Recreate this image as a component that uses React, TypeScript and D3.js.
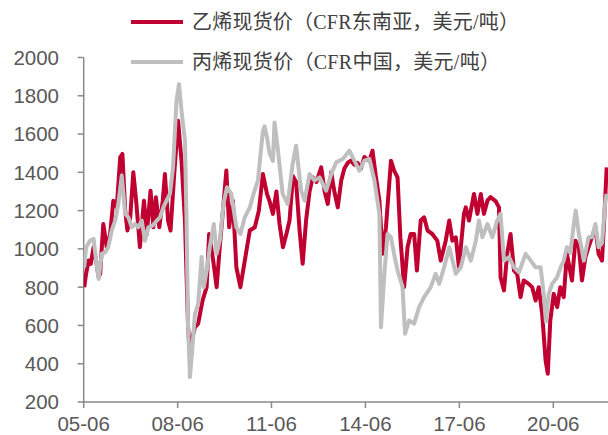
import React from "react";
import * as d3 from "d3";

// 乙烯现货价（CFR东南亚，美元/吨）: [decimal year, value]
const ethylene: [number, number][] = [
  [2005.43, 800], [2005.49, 870], [2005.57, 939], [2005.64, 922], [2005.73, 1009], [2005.81, 939],
  [2005.89, 852], [2005.94, 870], [2006.04, 1130], [2006.15, 1009], [2006.26, 1078], [2006.36, 1252],
  [2006.47, 1217], [2006.58, 1478], [2006.65, 1496], [2006.74, 1200], [2006.81, 1096], [2006.90, 1165],
  [2007.00, 1400], [2007.09, 1252], [2007.21, 1009], [2007.34, 1252], [2007.43, 1078], [2007.55, 1304],
  [2007.64, 1113], [2007.72, 1270], [2007.83, 1113], [2007.94, 1252], [2008.01, 1391], [2008.11, 1148],
  [2008.19, 1096], [2008.30, 1374], [2008.43, 1670], [2008.54, 1461], [2008.65, 1148], [2008.75, 591],
  [2008.83, 400], [2008.89, 539], [2008.97, 591], [2009.07, 609], [2009.21, 730], [2009.34, 800],
  [2009.42, 1078], [2009.55, 939], [2009.66, 800], [2009.76, 1009], [2009.87, 1217], [2009.97, 1409],
  [2010.06, 1113], [2010.18, 1252], [2010.29, 904], [2010.42, 800], [2010.56, 939], [2010.72, 1096],
  [2010.88, 1113], [2011.01, 1200], [2011.14, 1391], [2011.27, 1287], [2011.35, 1250], [2011.46, 1183],
  [2011.57, 1300], [2011.67, 1130], [2011.78, 1009], [2011.89, 1078], [2011.99, 1148], [2012.10, 1380],
  [2012.20, 1350], [2012.31, 1100], [2012.41, 922], [2012.52, 1150], [2012.63, 1300], [2012.73, 1374],
  [2012.85, 1350], [2013.00, 1426], [2013.11, 1300], [2013.21, 1235], [2013.32, 1400], [2013.42, 1300],
  [2013.53, 1217], [2013.64, 1357], [2013.74, 1420], [2013.85, 1450], [2013.95, 1461], [2014.06, 1440],
  [2014.16, 1450], [2014.27, 1420], [2014.38, 1480], [2014.54, 1460], [2014.64, 1513], [2014.75, 1374],
  [2014.86, 1252], [2014.96, 974], [2015.07, 1113], [2015.23, 1461], [2015.33, 1409], [2015.44, 1374],
  [2015.53, 1061], [2015.65, 800], [2015.76, 1009], [2015.86, 1078], [2015.97, 1078], [2016.06, 887],
  [2016.18, 1148], [2016.29, 1165], [2016.40, 1096], [2016.55, 1078], [2016.71, 1043], [2016.82, 939],
  [2016.98, 1043], [2017.09, 1148], [2017.19, 1043], [2017.30, 1060], [2017.40, 904], [2017.56, 1183],
  [2017.62, 1217], [2017.72, 1148], [2017.88, 1287], [2017.99, 1183], [2018.10, 1287], [2018.20, 1183],
  [2018.31, 1252], [2018.41, 1270], [2018.57, 1250], [2018.68, 1217], [2018.73, 852], [2018.84, 783],
  [2018.94, 974], [2019.05, 1078], [2019.16, 887], [2019.26, 870], [2019.37, 748], [2019.47, 835],
  [2019.63, 817], [2019.74, 800], [2019.85, 730], [2019.95, 800], [2020.06, 661], [2020.17, 417],
  [2020.24, 348], [2020.32, 626], [2020.43, 765], [2020.54, 696], [2020.64, 800], [2020.75, 748],
  [2020.85, 974], [2021.01, 835], [2021.12, 1043], [2021.23, 1009], [2021.33, 835], [2021.44, 957],
  [2021.54, 1009], [2021.65, 1061], [2021.76, 1113], [2021.86, 974], [2021.97, 939], [2022.05, 1183],
  [2022.12, 1426],
];

// 丙烯现货价（CFR中国，美元/吨）: [decimal year, value]
const propylene: [number, number][] = [
  [2005.43, 904], [2005.49, 1009], [2005.62, 1043], [2005.73, 1052], [2005.81, 939], [2005.89, 843],
  [2005.99, 974], [2006.10, 983], [2006.20, 1009], [2006.31, 1096], [2006.42, 1148], [2006.52, 1235],
  [2006.63, 1383], [2006.74, 1183], [2006.84, 1165], [2006.95, 1113], [2007.05, 1130], [2007.16, 1113],
  [2007.27, 1148], [2007.37, 1043], [2007.48, 1113], [2007.62, 1122], [2007.75, 1148], [2007.85, 1165],
  [2007.96, 1217], [2008.06, 1252], [2008.17, 1287], [2008.27, 1426], [2008.38, 1774], [2008.46, 1861],
  [2008.54, 1722], [2008.65, 1565], [2008.70, 1148], [2008.75, 591], [2008.81, 330], [2008.88, 470],
  [2008.97, 661], [2009.07, 713], [2009.18, 957], [2009.25, 800], [2009.36, 904], [2009.44, 1009],
  [2009.57, 1130], [2009.66, 974], [2009.76, 1043], [2009.88, 1235], [2009.99, 1322], [2010.13, 1287],
  [2010.29, 1113], [2010.42, 1078], [2010.56, 1165], [2010.72, 1217], [2010.84, 1287], [2010.98, 1357],
  [2011.14, 1617], [2011.19, 1640], [2011.27, 1583], [2011.35, 1500], [2011.46, 1460], [2011.51, 1661],
  [2011.61, 1530], [2011.77, 1287], [2011.93, 1235], [2012.09, 1443], [2012.20, 1539], [2012.36, 1304],
  [2012.47, 1252], [2012.63, 1391], [2012.79, 1357], [2012.95, 1374], [2013.16, 1304], [2013.32, 1391],
  [2013.48, 1452], [2013.69, 1470], [2013.90, 1513], [2014.06, 1461], [2014.22, 1409], [2014.38, 1461],
  [2014.54, 1470], [2014.70, 1357], [2014.86, 1183], [2014.91, 591], [2015.02, 870], [2015.12, 1078],
  [2015.23, 1061], [2015.33, 974], [2015.44, 887], [2015.60, 800], [2015.68, 557], [2015.81, 626],
  [2015.97, 609], [2016.13, 696], [2016.29, 748], [2016.50, 800], [2016.66, 870], [2016.77, 817],
  [2016.93, 904], [2017.09, 1009], [2017.19, 943], [2017.30, 870], [2017.46, 904], [2017.62, 1009],
  [2017.78, 939], [2017.94, 1043], [2018.04, 1148], [2018.15, 1061], [2018.31, 1130], [2018.47, 1061],
  [2018.62, 1148], [2018.73, 1183], [2018.84, 939], [2019.00, 957], [2019.16, 904], [2019.32, 878],
  [2019.53, 974], [2019.69, 940], [2019.85, 904], [2020.01, 904], [2020.11, 765], [2020.18, 620],
  [2020.27, 765], [2020.38, 817], [2020.54, 852], [2020.65, 904], [2020.75, 939], [2020.85, 1009],
  [2020.96, 980], [2021.07, 1130], [2021.13, 1200], [2021.23, 1078], [2021.39, 939], [2021.54, 1061],
  [2021.65, 1061], [2021.76, 1130], [2021.86, 1009], [2021.97, 1030], [2022.08, 1252], [2022.12, 1287],
];

const yTicks = [200, 400, 600, 800, 1000, 1200, 1400, 1600, 1800, 2000];
const xTickYears = [2005, 2008, 2011, 2014, 2017, 2020];
const seriesNames = ["乙烯现货价（CFR东南亚，美元/吨）", "丙烯现货价（CFR中国，美元/吨）"];
const seriesColors = ["#C00030", "#BFBFBF"];

const W = 608;
const H = 435;

function decToDate(y: number): Date {
  const yr = Math.floor(y);
  const start = new Date(yr, 0, 1).getTime();
  return new Date(start + (y - yr) * 365.25 * 864e5);
}

export default function App() {
  const x = d3
    .scaleTime()
    .domain([new Date(2005, 5, 1), new Date(2020, 5, 1)])
    .range([83.7, 553.3]);
  const y = d3.scaleLinear().domain([200, 2000]).range([402, 57.5]);

  const line = d3
    .line<[number, number]>()
    .x((d) => x(decToDate(d[0])))
    .y((d) => y(d[1]));

  const axisColor = "#898989";
  const tickFont = "'Liberation Sans', Arial, sans-serif";
  const x0 = x(new Date(2005, 5, 1));
  const legendWidths = [327, 308];

  return (
    <svg
      width={W}
      height={H}
      style={{ position: "absolute", left: 0, top: 0, background: "#fff" }}
    >
      <defs>
        <clipPath id="plot">
          <rect x={x0} y={0} width={W - x0} height={404} />
        </clipPath>
      </defs>
      {/* axes */}
      <line x1={x0} x2={x0} y1={y(2000)} y2={y(200)} stroke={axisColor} strokeWidth={1.5} />
      <line x1={x0} x2={W} y1={y(200)} y2={y(200)} stroke={axisColor} strokeWidth={1.5} />
      {yTicks.map((t) => (
        <g key={t}>
          <line x1={x0 - 6} x2={x0} y1={y(t)} y2={y(t)} stroke={axisColor} strokeWidth={1.5} />
          <text
            x={59}
            y={y(t)}
            dy="0.36em"
            textAnchor="end"
            fontFamily={tickFont}
            fontSize={20.5}
            fill="#595959"
          >
            {t}
          </text>
        </g>
      ))}
      {xTickYears.map((yr) => {
        const d = new Date(yr, 5, 1);
        const px = x(d);
        return (
          <g key={yr}>
            <line x1={px} x2={px} y1={y(200)} y2={y(200) + 6} stroke={axisColor} strokeWidth={1.5} />
            <text
              x={px}
              y={431}
              textAnchor="middle"
              fontFamily={tickFont}
              fontSize={20.5}
              fill="#595959"
            >
              {d3.timeFormat("%y-%m")(d)}
            </text>
          </g>
        );
      })}
      {/* series */}
      <g clipPath="url(#plot)">
        <path
          d={line(ethylene) || ""}
          fill="none"
          stroke={seriesColors[0]}
          strokeWidth={4}
          strokeLinejoin="round"
        />
        <path
          d={line(propylene) || ""}
          fill="none"
          stroke={seriesColors[1]}
          strokeWidth={4}
          strokeLinejoin="round"
        />
      </g>
      {/* legend */}
      {seriesNames.map((name, i) => {
        const ly = i === 0 ? 22 : 62;
        return (
          <g key={name}>
            <line x1={131} x2={183} y1={ly} y2={ly} stroke={seriesColors[i]} strokeWidth={4} />
            <text
              x={192}
              y={ly}
              dy="0.35em"
              fontFamily="'Liberation Serif', 'Noto Sans CJK SC', serif"
              fontSize={20}
              fill="#404040"
              textLength={legendWidths[i]}
              lengthAdjust="spacing"
            >
              {name}
            </text>
          </g>
        );
      })}
    </svg>
  );
}
